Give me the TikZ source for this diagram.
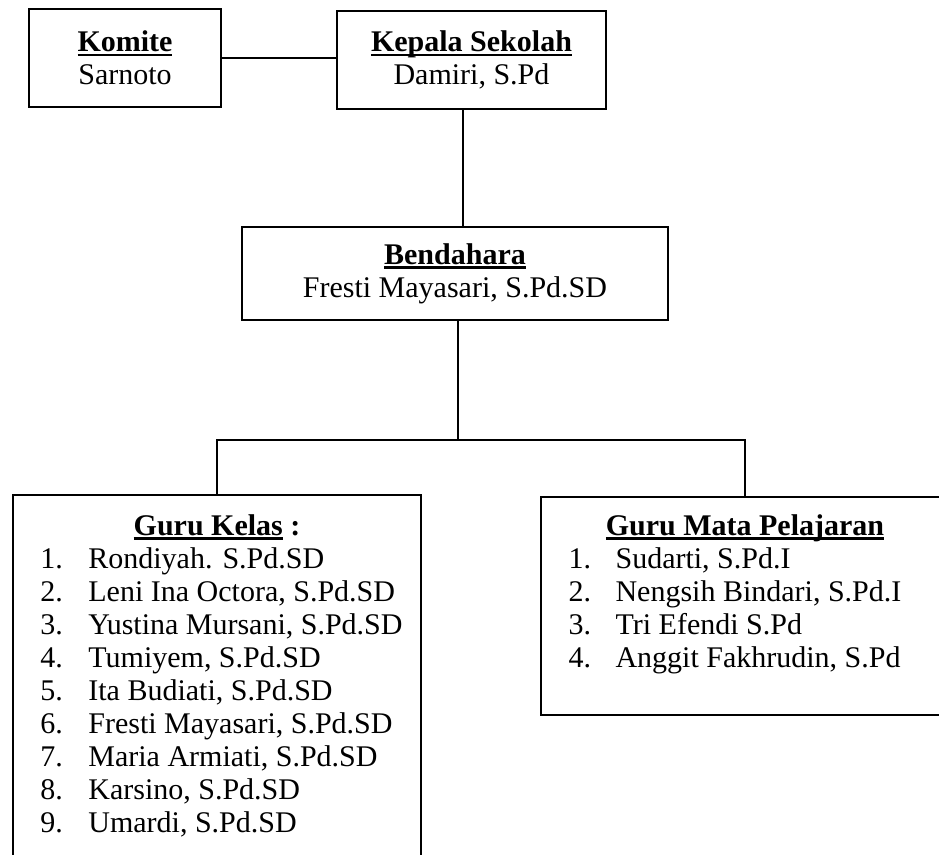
\documentclass[tikz,border=0pt]{standalone}
\usepackage{fontspec}
\setmainfont{Liberation Serif}
\usetikzlibrary{positioning,calc}
\newcommand{\judul}[1]{\setbox0=\hbox{\textbf{#1}}\rlap{\rule[-4.4pt]{\wd0}{2.4pt}}\box0\relax}

\begin{document}
\begin{tikzpicture}[x=1pt,y=1pt,font=\fontsize{30}{33}\selectfont,
	box/.style={draw,rectangle,line width=1.6pt,align=center,inner sep=0pt},
	link/.style={line width=1.5pt}]
	\useasboundingbox (0,0) rectangle (939,-854);
	\clip (0,0) rectangle (939,-854);
	\node[box,minimum width=192,minimum height=98] (komite) at (125,-58) {\judul{Komite}\\Sarnoto};
	\node[box,minimum width=269,minimum height=98] (kepala) at (471.5,-60) {\judul{Kepala Sekolah}\\Damiri, S.Pd};
	\node[box,minimum width=426,minimum height=93] (bendahara) at (455,-273.5) {\judul{Bendahara}\\Fresti Mayasari, S.Pd.SD};
	\node[box,minimum width=408,minimum height=364] (kelas) at (217,-677) {%
		\begin{tabular}{@{\hspace{9pt}}p{48pt}@{}l@{}}
		\multicolumn{2}{@{}c@{}}{\judul{Guru Kelas} \textbf{:}}\\
		1. & Rondiyah. S.Pd.SD\\
		2. & Leni Ina Octora, S.Pd.SD\\
		3. & Yustina Mursani, S.Pd.SD\\
		4. & Tumiyem, S.Pd.SD\\
		5. & Ita Budiati, S.Pd.SD\\
		6. & Fresti Mayasari, S.Pd.SD\\
		7. & Maria Armiati, S.Pd.SD\\
		8. & Karsino, S.Pd.SD\\
		9. & Umardi, S.Pd.SD
		\end{tabular}};
	\node[box,minimum width=408,minimum height=218] (mata) at (745,-606) {%
		\begin{tabular}{@{}p{47pt}@{}l@{\hspace{20pt}}}
		\multicolumn{2}{@{}c@{}}{\judul{Guru Mata Pelajaran}}\\
		1. & Sudarti, S.Pd.I\\
		2. & Nengsih Bindari, S.Pd.I\\
		3. & Tri Efendi S.Pd\\
		4. & Anggit Fakhrudin, S.Pd\\[23pt]
		\end{tabular}};
	% garis penghubung
	\draw[link] (komite.east) -- (komite.east -| kepala.west);
	\draw[link] ([xshift=-8.5pt]kepala.south) -- ([xshift=-8.5pt]kepala.south |- bendahara.north);
	\coordinate (split) at ($(bendahara.south)+(3,-119)$);
	\draw[link] ([xshift=3pt]bendahara.south) -- (split);
	\draw[link] (kelas.north) |- (split) -| (mata.north);
\end{tikzpicture}
\end{document}
